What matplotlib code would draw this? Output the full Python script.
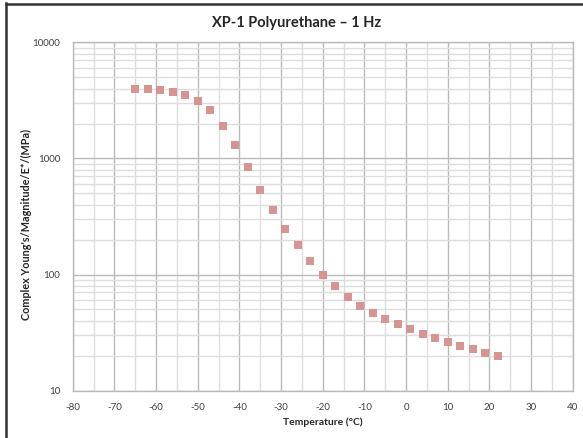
import matplotlib
matplotlib.use("Agg")
import matplotlib.pyplot as plt
from matplotlib.lines import Line2D
from matplotlib.ticker import LogLocator, FixedLocator, NullFormatter

plt.rcParams['font.family'] = ['Lato', 'DejaVu Sans']
plt.rcParams['axes.unicode_minus'] = False

# data
temperature = [-65, -62, -59, -56, -53, -50, -47, -44, -41, -38,
               -35, -32, -29, -26, -23, -20, -17, -14, -11, -8,
               -5, -2, 1, 4, 7, 10, 13, 16, 19, 22]
modulus = [4000, 4000, 3900, 3740, 3500, 3130, 2600, 1920, 1300, 840,
           535, 360, 248, 179, 131, 100, 79, 64.6, 53.8, 46.8,
           41.1, 37.2, 33.7, 30.7, 28.2, 26.2, 24.2, 22.7, 21.2, 19.8]
x_ticks = list(range(-80, 41, 10))
y_ticks = [10, 100, 1000, 10000]

fig = plt.figure(figsize=(5.83, 4.38), dpi=100)
ax = fig.add_axes([0.1247, 0.1084, 0.8576, 0.7946])

ax.set_yscale('log')
ax.set_xlim(-80, 40)
ax.set_ylim(10, 10000)

ax.xaxis.set_major_locator(FixedLocator(x_ticks))
ax.xaxis.set_minor_locator(FixedLocator(list(range(-75, 40, 10))))
ax.yaxis.set_major_locator(FixedLocator(y_ticks))
ax.yaxis.set_minor_locator(LogLocator(base=10, subs=range(2, 10)))
ax.yaxis.set_minor_formatter(NullFormatter())
ax.set_xticklabels([str(v) for v in x_ticks])
ax.set_yticklabels([str(v) for v in y_ticks])

ax.grid(True, which='major', color='#bababa', linewidth=1.0)
ax.grid(True, which='minor', color='#dddddd', linewidth=1.0)
ax.set_axisbelow(True)
ax.tick_params(which='both', length=0, labelsize=7, labelcolor='#404040')
ax.tick_params(axis='x', pad=9)
ax.tick_params(axis='y', pad=9)
for s in ax.spines.values():
    s.set_color('#bababa')
    s.set_linewidth(1.0)

ax.plot(temperature, modulus, linestyle='none', marker='s', markersize=5.6,
        color='#d69492', markeredgewidth=0, zorder=3)

fig.text(297 / 583, 1 - 26.7 / 438, 'XP-1 Polyurethane \u2013 1 Hz',
         fontsize=10.5, fontweight='bold', color='#262626',
         ha='center', va='baseline')
ax.set_xlabel('Temperature (\u00b0C)', fontsize=7.5, fontweight='bold',
              color='#262626', labelpad=4)
ax.set_ylabel("Complex Young's/Magnitude/E*/(MPa)", fontsize=7.8,
              fontweight='bold', color='#262626', va='center')
ax.yaxis.set_label_coords(-0.0934, 0.478)

# dark frame on the left and top
fig.add_artist(Line2D([5.5 / 583, 5.5 / 583], [0, 1 - 3 / 438],
                      transform=fig.transFigure, color='#333333', linewidth=1.8))
fig.add_artist(Line2D([5.5 / 583, 1], [1 - 3.5 / 438, 1 - 3.5 / 438],
                      transform=fig.transFigure, color='#333333', linewidth=1.8))

fig.savefig('out.png', dpi=100)
